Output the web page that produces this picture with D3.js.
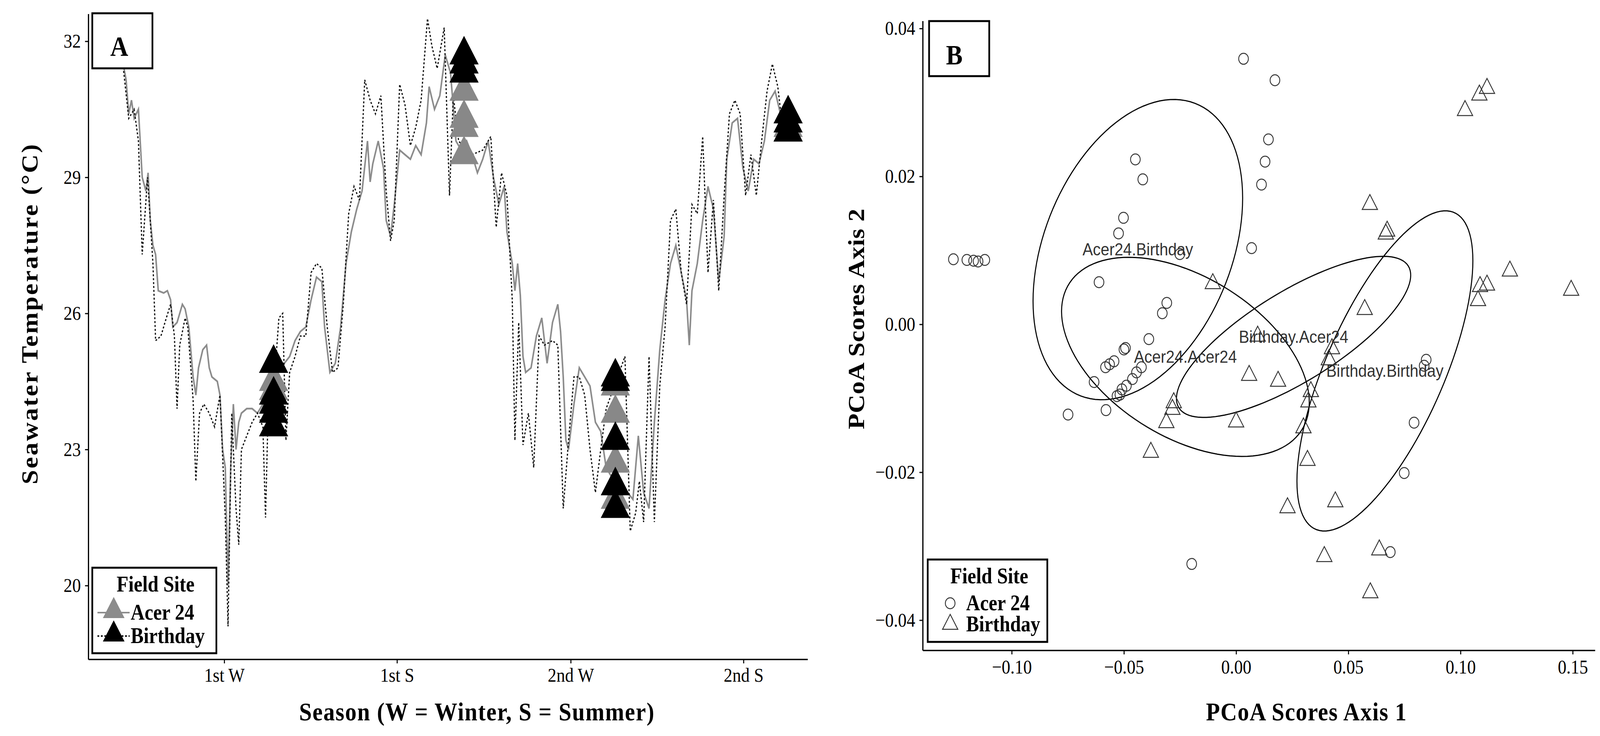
<!DOCTYPE html>
<html>
<head>
<meta charset="utf-8">
<script src="https://cdn.jsdelivr.net/npm/d3@7"></script>
<style>
  html, body { margin: 0; padding: 0; background: #fff; overflow: hidden; width: 100%; height: 100%; }
  svg { display: block; width: 100vw; height: 100vh; }
  svg text { font-family: "Liberation Serif", "DejaVu Serif", serif; }
  svg text.sans { font-family: "Liberation Sans", Arial, sans-serif; }
</style>
</head>
<body>
<svg id="chart" viewBox="0 0 4629 1885" preserveAspectRatio="none"></svg>
<script>
// ---- panel A: seawater temperature, days relative to 1st winter ----
let acerDay = [-107.3,-103.4,-100.6,-97.7,-94.9,-90.4,-86.4,-82.5,-80.2,-77.9,-75.1,-72.3,-69.5,-63.8,-59.9,-56.5,-54.2,-49.7,-44.1,-41.2,-37.3,-32.8,-29.9,-27.1,-22.6,-18.6,-15.8,-13.0,-7.3,-4.5,-1.7,1.1,4.0,6.8,9.6,12.4,15.3,18.1,23.7,29.4,35.0,40.7,46.3,52.0,57.6,63.3,68.9,74.6,80.2,85.9,91.5,97.2,102.8,105.7,111.3,117.0,122.6,128.3,133.9,139.6,145.2,150.9,153.7,156.5,162.2,167.8,170.6,175.2,179.1,184.8,190.4,196.1,201.7,207.4,213.0,215.8,221.5,227.1,232.8,238.4,244.1,249.7,255.4,261.0,266.7,272.3,278.0,283.6,289.3,294.9,297.8,303.4,306.2,309.1,311.9,314.7,317.5,323.2,328.8,334.5,340.1,345.8,351.4,354.3,357.1,359.9,362.7,368.4,374.0,379.7,385.3,391.0,396.6,402.3,410.8,419.2,424.9,430.5,436.2,441.8,447.5,453.1,458.8,464.4,470.1,475.7,481.4,487.0,489.9,492.7,498.3,504.0,509.6,515.3,520.9,526.6,529.4,535.1,540.7,546.4,552.0,557.7,563.3,569.0,574.6,580.3,585.9];
let acerTemp = [31.6,31.15,30.4,30.7,30.3,30.5,29.0,28.7,29.1,28.05,27.5,27.3,26.5,26.45,26.5,26.3,25.7,25.8,26.2,26.1,25.7,24.6,24.2,24.8,25.2,25.3,24.8,24.6,24.5,24.2,23.0,22.6,20.0,22.6,24.0,23.0,23.6,23.8,23.9,23.9,23.8,24.0,24.3,24.5,24.9,24.9,25.05,25.4,25.6,25.7,26.3,26.8,26.7,25.7,24.7,24.9,25.7,27.1,27.8,28.3,28.7,29.8,28.9,29.3,29.8,29.2,28.05,27.7,28.4,29.6,29.5,29.4,29.7,29.5,30.2,31.0,30.5,30.8,31.7,31.3,29.8,29.6,29.8,29.5,29.1,29.4,29.8,29.0,28.4,28.8,27.8,27.1,26.5,27.1,26.4,25.05,24.7,24.8,25.5,25.9,24.9,25.8,26.2,25.6,24.6,23.2,23.0,24.0,24.8,24.6,24.4,23.6,23.4,22.6,22.3,22.2,22.05,21.9,23.3,22.05,21.7,23.6,25.2,26.3,27.1,27.5,26.9,26.3,25.3,26.5,27.1,28.05,28.8,28.3,26.7,27.7,29.4,30.2,30.3,29.2,28.7,29.4,29.3,29.8,30.7,30.9,30.4];

let birthDay = [-107.3,-100.6,-94.9,-90.4,-86.4,-80.8,-75.1,-72.3,-66.7,-61.0,-56.5,-52.5,-49.7,-46.9,-41.2,-38.4,-32.8,-29.9,-26.0,-21.5,-15.8,-10.2,-4.5,1.1,4.0,7.9,12.4,15.3,18.1,23.7,29.4,35.0,40.7,43.5,46.3,52.0,57.6,61.6,65.0,68.9,74.6,80.2,85.9,91.5,97.2,102.8,108.5,114.1,119.8,125.4,131.1,136.7,142.4,148.0,153.7,159.3,165.0,170.6,175.2,179.1,184.8,190.4,196.1,201.7,207.4,214.1,218.7,224.3,231.7,237.3,241.3,246.9,255.4,261.0,272.3,280.8,286.5,292.1,297.8,303.4,306.2,310.2,314.7,320.4,326.0,331.7,337.3,345.8,351.4,357.1,362.7,368.4,374.0,379.7,385.3,391.0,396.6,402.3,422.1,427.7,433.4,437.3,441.8,447.5,453.1,458.8,464.4,470.1,475.7,481.4,487.0,492.7,498.3,504.0,509.6,515.3,520.9,526.6,532.2,537.9,543.5,549.2,554.8,560.5,566.1,571.8,577.4,583.1,585.9];
let birthTemp = [31.6,30.3,30.5,29.8,27.3,29.0,27.1,25.4,25.5,25.9,26.2,25.5,23.9,25.3,25.9,25.7,24.1,22.3,23.8,24.0,23.8,23.5,24.2,21.5,19.1,23.8,21.7,20.9,23.0,23.3,23.6,23.8,23.5,21.5,23.9,24.3,25.9,26.0,23.2,24.7,25.05,25.5,25.5,26.9,27.1,27.0,25.7,24.7,24.8,26.2,28.2,28.8,28.5,31.15,30.7,30.4,30.8,28.7,27.6,28.05,31.05,30.6,29.7,30.1,30.7,32.5,31.9,31.4,32.3,28.6,30.8,29.8,29.6,29.5,29.6,29.9,27.9,29.1,28.6,26.3,23.2,25.8,23.1,23.8,22.6,25.5,25.3,25.4,25.3,21.7,23.2,24.6,24.6,24.2,23.0,22.05,23.0,23.9,25.05,21.2,21.6,22.3,21.4,25.05,21.4,24.4,25.7,28.05,28.3,26.9,26.2,28.4,28.2,29.9,26.9,28.5,26.5,28.6,30.4,30.7,30.4,28.6,29.5,28.6,29.8,30.9,31.5,31.0,30.5];

// sampling events (triangles)
let acerPtDay = [52,52,252.6,252.6,252.6,252.6,412,412,412,412,594,594];
let acerPtTemp = [24.5,24.3,30.9,30.3,30.1,29.5,24.4,23.8,22.7,21.9,30.0,30.1];
let birthPtDay = [52,52,52,52,52,252.6,252.6,252.6,412,412,412,412,412,594,594,594];
let birthPtTemp = [24.9,24.2,24.0,23.8,23.5,31.7,31.5,31.3,24.6,24.5,23.2,22.2,21.7,30.4,30.2,30.0];

let seasonTicks = [0, 182, 365, 547];
let seasonLabels = ["1st W", "1st S", "2nd W", "2nd S"];
let tempTicks = [20, 23, 26, 29, 32];

// ---- panel B: PCoA scores ----
let acerX = [-0.126,-0.120,-0.117,-0.115,-0.112,0.0033,0.0173,0.0144,0.0129,0.0113,0.0069,-0.0449,-0.0416,-0.0502,-0.0524,-0.0251,-0.0611,-0.0309,-0.0329,-0.0389,-0.0493,-0.0500,-0.0544,-0.0564,-0.0582,-0.0422,-0.0444,-0.0462,-0.0489,-0.0509,-0.0518,-0.0531,-0.0633,-0.0580,-0.0749,-0.0198,0.0847,0.0838,0.0793,0.0749,0.0687];
let acerY = [0.0088,0.0087,0.0086,0.0085,0.0087,0.0359,0.0330,0.0250,0.0220,0.0189,0.0103,0.0223,0.0196,0.0144,0.0123,0.0095,0.0057,0.0029,0.0015,-0.0020,-0.0032,-0.0034,-0.0050,-0.0054,-0.0058,-0.0058,-0.0065,-0.0074,-0.0083,-0.0088,-0.0095,-0.0097,-0.0078,-0.0116,-0.0122,-0.0324,-0.0048,-0.0056,-0.0133,-0.0201,-0.0308];
let birthX = [0.1020,0.1084,0.1118,0.0596,0.0673,0.0667,0.1220,0.1087,0.1118,0.1078,0.1493,-0.0104,0.0573,0.0096,0.0427,0.0413,0.0058,0.0187,0.0333,0.0322,-0.0278,-0.0284,-0.0311,0.0000,0.0300,-0.0380,0.0318,0.0229,0.0442,0.0393,0.0638,0.0598];
let birthY = [0.0289,0.0310,0.0319,0.0162,0.0126,0.0122,0.0072,0.0051,0.0053,0.0032,0.0046,0.0055,0.0020,-0.0016,-0.0033,-0.0048,-0.0069,-0.0077,-0.0091,-0.0105,-0.0106,-0.0115,-0.0133,-0.0132,-0.0140,-0.0173,-0.0184,-0.0248,-0.0240,-0.0314,-0.0305,-0.0363];

// ellipses: centre, half extents, tilt (cos of phase)
let ellNames = ["Acer24.Birthday", "Acer24.Acer24", "Birthday.Acer24", "Birthday.Birthday"];
let ellCx = [-0.0438, -0.0226, 0.0256, 0.0663];
let ellCy = [0.0101, -0.0044, -0.0017, -0.0063];
let ellRx = [0.0467, 0.0552, 0.0522, 0.0392];
let ellRy = [0.0203, 0.01346, 0.01089, 0.02165];
let ellRho = [0.343, -0.457, 0.766, 0.688];

let pcoaXTicks = [-0.10, -0.05, 0.00, 0.05, 0.10, 0.15];
let pcoaYTicks = [-0.04, -0.02, 0.00, 0.02, 0.04];

const svg = d3.select("#chart");
svg.append("rect").attr("width", 4629).attr("height", 1885).attr("fill", "#fff");

const minus = (s) => s.replace("-", "\u2212 ");

// ================= PANEL A =================
let ax = d3.scaleLinear().domain([-143, 614.7]).range([256, 2337]);
let ay = d3.scaleLinear().domain([18.37, 32.6]).range([1689, 36]);
let gA = svg.append("g");

let lineA = d3.line().x((d) => ax(d[0])).y((d) => ay(d[1]));
gA.append("path").datum(d3.zip(acerDay, acerTemp)).attr("d", lineA)
  .attr("fill", "none").attr("stroke", "#8c8c8c").attr("stroke-width", 4.5);
gA.append("path").datum(d3.zip(birthDay, birthTemp)).attr("d", lineA)
  .attr("fill", "none").attr("stroke", "#111").attr("stroke-width", 3.5).attr("stroke-dasharray", "5,5");

let triBig = d3.symbol().type(d3.symbolTriangle).size(3100);
gA.selectAll(".ta").data(d3.zip(acerPtDay, acerPtTemp)).join("path")
  .attr("d", triBig).attr("fill", "#888")
  .attr("transform", (d) => `translate(${ax(d[0])},${ay(d[1])})`);
gA.selectAll(".tb").data(d3.zip(birthPtDay, birthPtTemp)).join("path")
  .attr("d", triBig).attr("fill", "#000")
  .attr("transform", (d) => `translate(${ax(d[0])},${ay(d[1])})`);

let axA = gA.append("g").attr("transform", "translate(0,1689)")
  .call(d3.axisBottom(ax).tickValues(seasonTicks).tickFormat((d, i) => seasonLabels[i]).tickSize(10).tickPadding(12));
let ayA = gA.append("g").attr("transform", "translate(256,0)")
  .call(d3.axisLeft(ay).tickValues(tempTicks).tickSize(10).tickPadding(12));
[axA, ayA].forEach((g) => {
  g.select(".domain").attr("stroke", "#000").attr("stroke-width", 3.5);
  g.selectAll(".tick line").attr("stroke", "#000").attr("stroke-width", 3);
  g.selectAll("text").attr("font-size", 50).attr("fill", "#000");
});
axA.select(".domain").attr("d", "M256,0H2337");
ayA.select(".domain").attr("d", "M0,36V1689");

gA.append("text").attr("x", 1379).attr("y", 1845).attr("text-anchor", "middle")
  .attr("font-size", 66).attr("font-weight", "bold").attr("textLength", 1027)
  .text("Season (W = Winter, S = Summer)");
gA.append("text").attr("transform", "translate(108,805) rotate(-90)").attr("text-anchor", "middle")
  .attr("font-size", 66).attr("font-weight", "bold").attr("textLength", 871)
  .text("Seawater Temperature (°C)");

gA.append("rect").attr("x", 267).attr("y", 34).attr("width", 174).attr("height", 141)
  .attr("fill", "#fff").attr("stroke", "#000").attr("stroke-width", 5);
gA.append("text").attr("x", 345).attr("y", 143).attr("text-anchor", "middle")
  .attr("font-size", 72).attr("font-weight", "bold").text("A");

// legend A
gA.append("rect").attr("x", 267).attr("y", 1454).attr("width", 359).attr("height", 219)
  .attr("fill", "#fff").attr("stroke", "#000").attr("stroke-width", 5);
gA.append("text").attr("x", 450).attr("y", 1515).attr("text-anchor", "middle")
  .attr("font-size", 56).attr("font-weight", "bold").text("Field Site");
let legA = [["Acer 24", "#8c8c8c", null, 1569], ["Birthday", "#000", "5,5", 1629]];
legA.forEach((l) => {
  gA.append("line").attr("x1", 282).attr("x2", 375).attr("y1", l[3]).attr("y2", l[3])
    .attr("stroke", l[1]).attr("stroke-width", 4).attr("stroke-dasharray", l[2]);
  gA.append("path").attr("d", d3.symbol().type(d3.symbolTriangle).size(1700))
    .attr("fill", l[1]).attr("transform", `translate(329,${l[3] - 4})`);
  gA.append("text").attr("x", 378).attr("y", l[3] + 18).attr("font-size", 56).attr("font-weight", "bold").text(l[0]);
});

// ================= PANEL B =================
let bx = d3.scaleLinear().domain([-0.1396, 0.160]).range([2670, 4615]);
let by = d3.scaleLinear().domain([-0.0441, 0.041]).range([1666, 54]);
let gB = svg.append("g");

ellNames.forEach((name, i) => {
  let phi = Math.acos(ellRho[i]);
  let pts = d3.range(0, 361, 3).map((a) => {
    let t = a * Math.PI / 180;
    return [ellCx[i] + ellRx[i] * Math.cos(t), ellCy[i] + ellRy[i] * Math.cos(t - phi)];
  });
  gB.append("path").datum(pts).attr("d", d3.line().x((d) => bx(d[0])).y((d) => by(d[1])))
    .attr("fill", "none").attr("stroke", "#000").attr("stroke-width", 3);
});

gB.selectAll(".ca").data(d3.zip(acerX, acerY)).join("circle")
  .attr("cx", (d) => bx(d[0])).attr("cy", (d) => by(d[1])).attr("r", 14)
  .attr("fill", "none").attr("stroke", "#333").attr("stroke-width", 2.5);
let triSmall = d3.symbol().type(d3.symbolTriangle).size(850);
gB.selectAll(".tb").data(d3.zip(birthX, birthY)).join("path")
  .attr("d", triSmall).attr("fill", "none").attr("stroke", "#333").attr("stroke-width", 2.5)
  .attr("transform", (d) => `translate(${bx(d[0])},${by(d[1])})`);

ellNames.forEach((name, i) => {
  gB.append("text").attr("class", "sans").attr("x", bx(ellCx[i])).attr("y", by(ellCy[i]) + 15).attr("text-anchor", "middle")
    .attr("font-size", 45).attr("fill", "#333").text(name);
});

let axB = gB.append("g").attr("transform", "translate(0,1666)")
  .call(d3.axisBottom(bx).tickValues(pcoaXTicks).tickFormat((d) => minus(d3.format(".2f")(d))).tickSize(10).tickPadding(14));
let ayB = gB.append("g").attr("transform", "translate(2670,0)")
  .call(d3.axisLeft(by).tickValues(pcoaYTicks).tickFormat((d) => minus(d3.format(".2f")(d))).tickSize(10).tickPadding(12));
[axB, ayB].forEach((g) => {
  g.select(".domain").attr("stroke", "#000").attr("stroke-width", 3.5);
  g.selectAll(".tick line").attr("stroke", "#000").attr("stroke-width", 3);
  g.selectAll("text").attr("font-size", 50).attr("fill", "#000");
});
axB.select(".domain").attr("d", "M2670,0H4615");
ayB.select(".domain").attr("d", "M0,54V1666");

gB.append("text").attr("x", 3779).attr("y", 1845).attr("text-anchor", "middle")
  .attr("font-size", 66).attr("font-weight", "bold").attr("textLength", 580)
  .text("PCoA Scores Axis 1");
gB.append("text").attr("transform", "translate(2500,817) rotate(-90)").attr("text-anchor", "middle")
  .attr("font-size", 66).attr("font-weight", "bold").attr("textLength", 565)
  .text("PCoA Scores Axis 2");

gB.append("rect").attr("x", 2688).attr("y", 54).attr("width", 174).attr("height", 141)
  .attr("fill", "#fff").attr("stroke", "#000").attr("stroke-width", 5);
gB.append("text").attr("x", 2761).attr("y", 165).attr("text-anchor", "middle")
  .attr("font-size", 72).attr("font-weight", "bold").text("B");

// legend B
gB.append("rect").attr("x", 2684).attr("y", 1433).attr("width", 346).attr("height", 211)
  .attr("fill", "#fff").attr("stroke", "#000").attr("stroke-width", 5);
gB.append("text").attr("x", 2862).attr("y", 1494).attr("text-anchor", "middle")
  .attr("font-size", 56).attr("font-weight", "bold").text("Field Site");
gB.append("circle").attr("cx", 2749).attr("cy", 1545).attr("r", 14)
  .attr("fill", "none").attr("stroke", "#333").attr("stroke-width", 2.5);
gB.append("path").attr("d", triSmall).attr("fill", "none").attr("stroke", "#333").attr("stroke-width", 2.5)
  .attr("transform", "translate(2749,1599)");
gB.append("text").attr("x", 2795).attr("y", 1563).attr("font-size", 56).attr("font-weight", "bold").text("Acer 24");
gB.append("text").attr("x", 2795).attr("y", 1617).attr("font-size", 56).attr("font-weight", "bold").text("Birthday");
</script>
</body>
</html>
